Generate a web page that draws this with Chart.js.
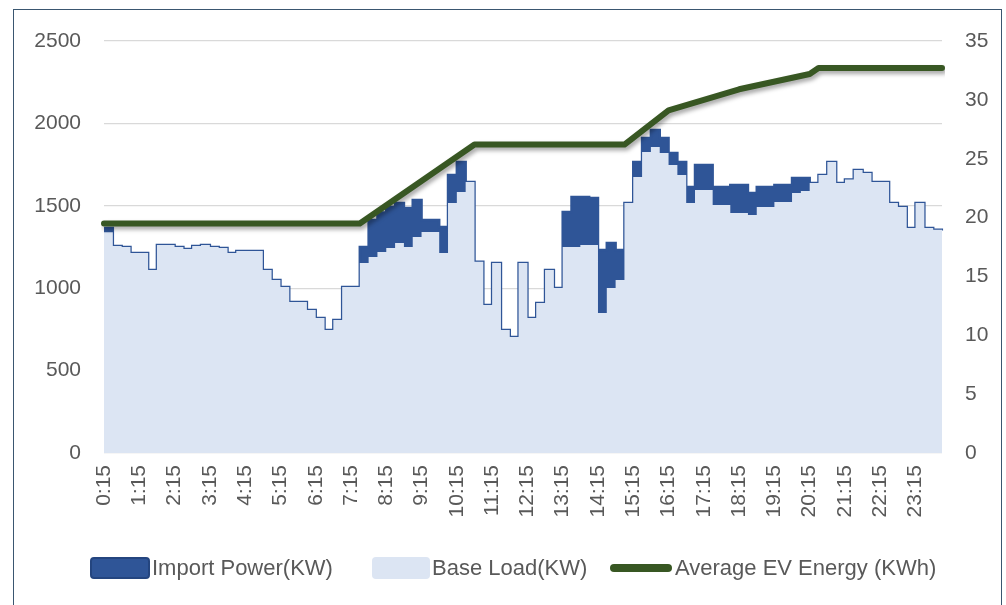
<!DOCTYPE html>
<html>
<head>
<meta charset="utf-8">
<script src="https://cdn.jsdelivr.net/npm/chart.js@4.4.1/dist/chart.umd.min.js"></script>
<style>
  body { margin: 0; background: #fff; }
  #wrap { position: relative; width: 1006px; height: 605px; overflow: hidden; }
  #frame { position: absolute; left: 13px; top: 9px; width: 989px; height: 610px;
           border: 1px solid #3a5670; box-sizing: border-box; pointer-events: none; }
  .lg { position: absolute; font-family: "Liberation Sans", Arial, sans-serif; font-size: 22px;
        color: #595959; line-height: 24px; top: 556px; white-space: nowrap; }
  .box { position: absolute; }
</style>
</head>
<body>
<div id="wrap">
  <canvas id="grafico" width="1006" height="605"></canvas>
  <div id="frame"></div>
  <div class="box" style="left:90px;top:557px;width:60px;height:22px;background:#2f5597;border:2px solid #24457f;border-radius:4px;box-sizing:border-box;"></div>
  <div class="lg" style="left:152px;">Import Power(KW)</div>
  <div class="box" style="left:372px;top:557px;width:58px;height:22px;background:#dce5f3;border-radius:4px;"></div>
  <div class="lg" style="left:432px;">Base Load(KW)</div>
  <div class="box" style="left:610px;top:564px;width:62px;height:8px;background:#385723;border-radius:4px;"></div>
  <div class="lg" style="left:675px;">Average EV Energy (KWh)</div>
</div>
<script>
// 15 minute slots, 0:15 .. 24:00
const horarios = [];
for (let m = 15; m <= 1440; m += 15) {
    horarios.push(Math.floor(m / 60) + ":" + String(m % 60).padStart(2, "0"));
}

const baseLoad = [
    1340, 1256, 1250, 1213, 1213, 1110, 1262, 1262, 1250, 1238, 1256, 1262,
    1250, 1244, 1213, 1226, 1226, 1226, 1110, 1050, 1007, 916, 916, 868,
    819, 746, 807, 1007, 1007, 1153, 1190, 1220, 1244, 1274, 1250, 1311,
    1341, 1341, 1213, 1517, 1584, 1644, 1160, 898, 1153, 746, 704, 1153,
    819, 910, 1110, 1001, 1250, 1250, 1262, 1262, 850, 1001, 1050, 1517,
    1675, 1827, 1857, 1820, 1748, 1687, 1517, 1596, 1596, 1505, 1505, 1456,
    1456, 1444, 1493, 1493, 1523, 1523, 1578, 1590, 1638, 1687, 1766, 1638,
    1660, 1717, 1699, 1644, 1644, 1517, 1493, 1365, 1517, 1365, 1355, 1350
];

const importPower = [
    1365, 1256, 1250, 1213, 1213, 1110, 1262, 1262, 1250, 1238, 1256, 1262,
    1250, 1244, 1213, 1226, 1226, 1226, 1110, 1050, 1007, 916, 916, 868,
    819, 746, 807, 1007, 1007, 1250, 1414, 1460, 1493, 1517, 1487, 1535,
    1414, 1414, 1371, 1687, 1766, 1644, 1160, 898, 1153, 746, 704, 1153,
    819, 910, 1110, 1001, 1462, 1553, 1553, 1547, 1232, 1274, 1232, 1517,
    1766, 1911, 1960, 1911, 1820, 1766, 1614, 1748, 1748, 1614, 1614, 1626,
    1626, 1578, 1614, 1614, 1626, 1626, 1669, 1669, 1638, 1687, 1766, 1638,
    1660, 1717, 1699, 1644, 1644, 1517, 1493, 1365, 1517, 1365, 1355, 1350
];

// energia media EV (KWh) - only the corner points, straight segments in between
const energiaEV = new Array(96).fill(null);
const energiaPontos = { 0: 19.5, 29: 19.5, 42: 26.2, 59: 26.2, 64: 29.1, 68: 30.0,
                        72: 30.9, 80: 32.2, 81: 32.7, 95: 32.7 };
Object.keys(energiaPontos).forEach(k => energiaEV[k] = energiaPontos[k]);

const cinza = "#595959";
Chart.defaults.font.family = '"Liberation Sans", Arial, sans-serif';
Chart.defaults.font.size = 21;
Chart.defaults.color = cinza;

const sombra = {
    id: "sombra",
    beforeDatasetDraw(chart, args) {
        if (args.index !== 2) return;
        const c = chart.ctx;
        c.save();
        c.shadowColor = "rgba(0,0,0,0.35)";
        c.shadowBlur = 4;
        c.shadowOffsetX = 2;
        c.shadowOffsetY = 3;
    },
    afterDatasetDraw(chart, args) {
        if (args.index !== 2) return;
        chart.ctx.restore();
    }
};

new Chart(document.getElementById("grafico"), {
    type: "line",
    data: {
        labels: horarios,
        datasets: [
            {
                label: "Import Power(KW)",
                data: importPower,
                stepped: true,
                borderColor: "#2f5597",
                backgroundColor: "#2f5597",
                borderWidth: 2.5,
                pointRadius: 0,
                fill: "origin",
                order: 2,
                yAxisID: "y"
            },
            {
                label: "Base Load(KW)",
                data: baseLoad,
                stepped: true,
                borderColor: "#dce5f3",
                backgroundColor: "#dce5f3",
                borderWidth: 0,
                pointRadius: 0,
                fill: "origin",
                order: 1,
                yAxisID: "y"
            },
            {
                label: "Average EV Energy (KWh)",
                data: energiaEV,
                spanGaps: true,
                borderColor: "#385723",
                borderWidth: 6,
                borderCapStyle: "round",
                borderJoinStyle: "round",
                pointRadius: 0,
                fill: false,
                tension: 0,
                order: 0,
                yAxisID: "y1"
            }
        ]
    },
    options: {
        responsive: false,
        animation: false,
        layout: { padding: { left: 14, right: 4, top: 41, bottom: 70 } },
        plugins: {
            legend: { display: false },
            tooltip: { enabled: false }
        },
        scales: {
            x: {
                grid: { display: false },
                border: { display: false },
                ticks: {
                    autoSkip: false,
                    maxRotation: 90,
                    minRotation: 90,
                    padding: 4,
                    color: cinza,
                    callback: (v, i) => i % 4 === 0 ? horarios[i] : ""
                },
                afterFit: s => { s.height = 82; }
            },
            y: {
                position: "left",
                min: 0,
                max: 2500,
                ticks: { stepSize: 500, padding: 23, color: cinza, callback: v => String(v) },
                grid: { color: "#d9d9d9", drawTicks: false, lineWidth: 1.3 },
                border: { display: false },
                afterFit: s => { s.width = 90; }
            },
            y1: {
                position: "right",
                min: 0,
                max: 35,
                ticks: { stepSize: 5, padding: 23, color: cinza, callback: v => String(v) },
                grid: { display: false, drawTicks: false },
                border: { display: false },
                afterFit: s => { s.width = 60; }
            }
        }
    },
    plugins: [sombra]
});
</script>
</body>
</html>
